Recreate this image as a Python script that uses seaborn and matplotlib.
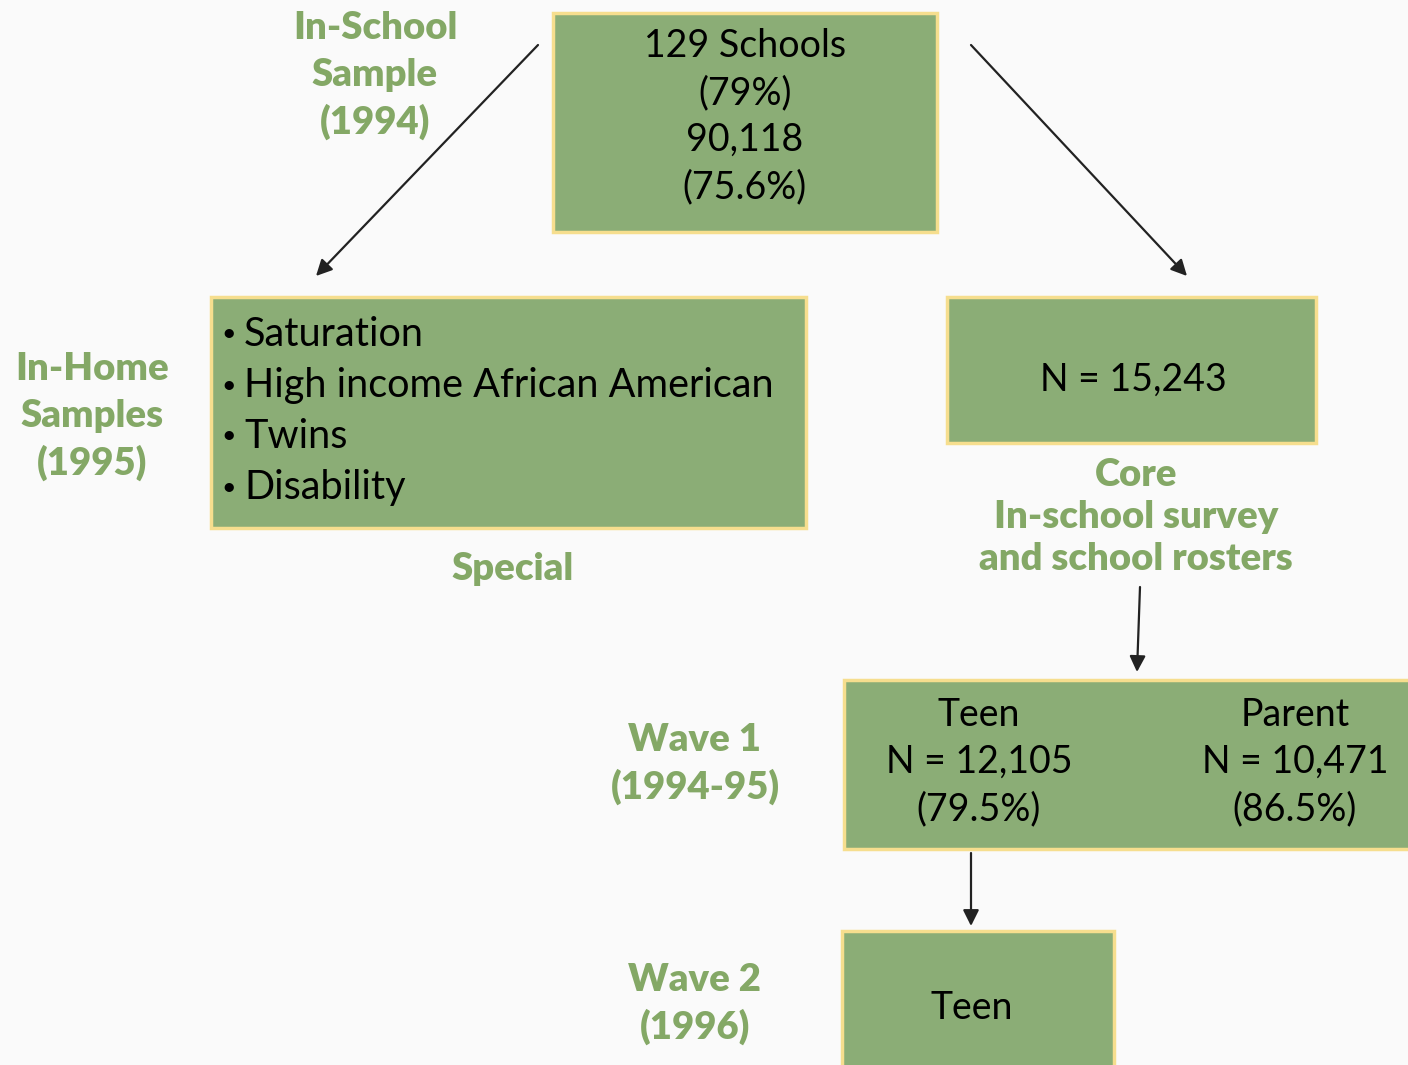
import seaborn as sns
import matplotlib.pyplot as plt
from matplotlib.patches import Rectangle

# ---- chart content ----
top_lines = ["129 Schools", "(79%)", "90,118", "(75.6%)"]
special_items = ["Saturation", "High income African American", "Twins", "Disability"]
core_lines = ["N = 15,243"]
wave1_teen = ["Teen", "N = 12,105", "(79.5%)"]
wave1_parent = ["Parent", "N = 10,471", "(86.5%)"]
wave2_lines = ["Teen"]

label_inschool = ["In-School", "Sample", "(1994)"]
label_inhome = ["In-Home", "Samples", "(1995)"]
label_special = ["Special"]
label_core = ["Core", "In-school survey", "and school rosters"]
label_wave1 = ["Wave 1", "(1994-95)"]
label_wave2 = ["Wave 2", "(1996)"]

BOX_FILL = "#8BAD76"
BOX_EDGE = "#F6DE8E"
LABEL_GREEN = "#84A866"
BG = "#FAFAFA"

sns.set_theme(style="white")
plt.rcParams['font.family'] = ['Lato', 'DejaVu Sans']

fig = plt.figure(figsize=(14.08, 10.65), dpi=100, facecolor=BG)
ax = fig.add_axes([0, 0, 1, 1])
ax.set_facecolor(BG)
ax.set_xlim(0, 1408)
ax.set_ylim(1065, 0)
ax.axis('off')


def box(x0, y0, x1, y1):
    ax.add_patch(Rectangle((x0, y0), x1 - x0, y1 - y0, facecolor=BOX_FILL,
                           edgecolor=BOX_EDGE, lw=2.5, zorder=2))


def lines(xc, y0, step, texts, bold=False, color='black', size=27, ha='center'):
    for i, t in enumerate(texts):
        ax.text(xc, y0 + i * step, t, ha=ha, va='center', fontsize=size,
                color=color, fontweight='heavy' if bold else 'normal', zorder=3)


def arrow(x0, y0, x1, y1):
    ax.annotate("", xy=(x1, y1), xytext=(x0, y0),
                arrowprops=dict(arrowstyle='-|>', color='#222222', lw=1.6,
                                mutation_scale=24, shrinkA=0, shrinkB=0),
                zorder=3)


# boxes
box(553, 13, 937, 232)
box(211, 297, 806, 528)
box(947, 297, 1316, 443)
box(844, 680, 1420, 849)
box(842, 931, 1114, 1080)

# box texts
lines(745, 46, 47, top_lines)
lines(244, 334, 51, special_items, ha='left', size=28.5)
lines(229, 334, 51, ["\u2022"] * len(special_items), ha='center', size=18)
lines(1133, 380, 47, core_lines)
lines(979, 715, 47, wave1_teen)
lines(1295, 715, 47, wave1_parent)
lines(972, 1008, 47, wave2_lines)

# green labels
LS = 27.5
lines(375, 28, 47, label_inschool, bold=True, color=LABEL_GREEN, size=LS)
lines(92, 369, 47, label_inhome, bold=True, color=LABEL_GREEN, size=LS)
lines(513, 569, 47, label_special, bold=True, color=LABEL_GREEN, size=LS)
lines(1136, 475, 42, label_core, bold=True, color=LABEL_GREEN, size=LS)
lines(695, 740, 47, label_wave1, bold=True, color=LABEL_GREEN, size=LS)
lines(695, 980, 47, label_wave2, bold=True, color=LABEL_GREEN, size=LS)

# arrows
arrow(538, 45, 316, 276)
arrow(971, 45, 1187, 276)
arrow(1140, 587, 1137, 672)
arrow(971, 853, 971, 926)

fig.savefig("out.png", dpi=100, facecolor=BG)
